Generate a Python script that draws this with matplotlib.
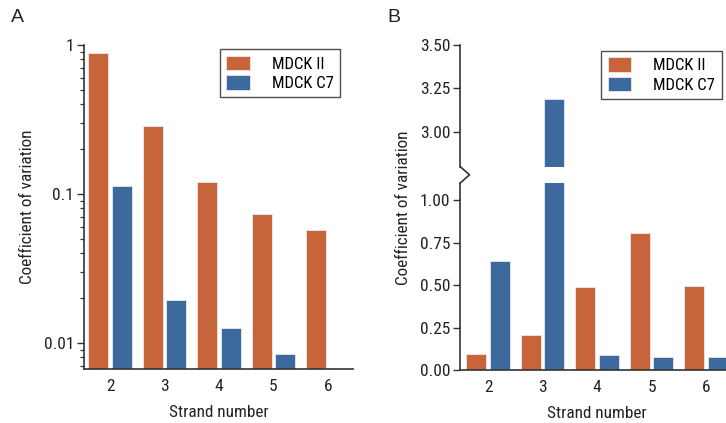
import matplotlib
matplotlib.use("Agg")
import matplotlib.pyplot as plt
from matplotlib import font_manager
from matplotlib.lines import Line2D
import numpy as np

# ---------------- data ----------------
strands = [2, 3, 4, 5, 6]
series_names = ["MDCK II", "MDCK C7"]
cv_a_mdck2 = [0.88, 0.284, 0.121, 0.073, 0.0577]
cv_a_mdckc7 = [0.113, 0.0194, 0.01255, 0.0084, np.nan]
cv_b_mdck2 = [0.092, 0.208, 0.488, 0.808, 0.492]
cv_b_mdckc7 = [0.643, 3.19, 0.088, 0.078, 0.075]
ticks_a = [0.01, 0.1, 1]
ticklabels_a = ["0.01", "0.1", "1"]
ticks_b_low = [0.0, 0.25, 0.5, 0.75, 1.0]
ticks_b_high = [3.0, 3.25, 3.5]

# ---------------- style ----------------
names = {f.name for f in font_manager.fontManager.ttflist}
cands = [n for n in ["Roboto Condensed", "Archivo Narrow", "PT Sans Narrow", "Liberation Sans"] if n in names]
plt.rcParams["font.family"] = cands[:1] + ["DejaVu Sans"]
ORANGE = "#C8643A"
BLUE = "#3C6A9D"
EDGE = "#e6e9f0"
SPINE = "#333333"
TXT = "#222222"
TFS = 12.5
LEGFS = 12
LFS = 12.3

W, H = 726, 423
fig = plt.figure(figsize=(W / 100, H / 100), dpi=100)


def rect(l, t, r, b):
    return [l / W, 1 - b / H, (r - l) / W, (b - t) / H]


x = np.array(strands, dtype=float)
bw = 0.367
off = 0.215


def style(ax, left=True, bottom=True):
    for s in ["top", "right"]:
        ax.spines[s].set_visible(False)
    ax.spines["left"].set_visible(left)
    ax.spines["bottom"].set_visible(bottom)
    for s in ["left", "bottom"]:
        ax.spines[s].set_color(SPINE)
        ax.spines[s].set_linewidth(1.2)
    ax.tick_params(axis="y", which="major", length=5, width=1.0, color=SPINE,
                   labelsize=TFS, pad=2, labelcolor=TXT)
    ax.tick_params(axis="y", which="minor", length=3, width=0.9, color=SPINE)
    ax.tick_params(axis="x", length=0, labelsize=TFS, pad=7, labelcolor=TXT)


# ---------------- panel A ----------------
axA = fig.add_axes(rect(84, 45, 353, 369))
axA.bar(x - off, cv_a_mdck2, bw, color=ORANGE, edgecolor=EDGE, linewidth=0.6, label=series_names[0])
axA.bar(x + off, cv_a_mdckc7, bw, color=BLUE, edgecolor=EDGE, linewidth=0.6, label=series_names[1])
axA.set_yscale("log")
axA.set_ylim(0.00669, 1)
axA.set_xlim(1.52, 6.46)
axA.set_yticks(ticks_a)
axA.set_yticklabels(ticklabels_a)
axA.set_xticks(strands)
axA.set_xticklabels([str(s) for s in strands])
style(axA)
axA.set_ylabel("Coefficient of variation", fontsize=LFS, labelpad=6, color=TXT)
axA.set_xlabel("Strand number", fontsize=LFS, labelpad=8, color=TXT)

legkw = dict(loc="upper left", bbox_transform=fig.transFigure, borderaxespad=0,
             fontsize=LEGFS, frameon=True, fancybox=False,
             handlelength=1.4, handleheight=0.95, handletextpad=1.35,
             labelspacing=0.22, borderpad=0.38)
legA = fig.legend(*axA.get_legend_handles_labels(),
                  bbox_to_anchor=(220 / W, 1 - 49.3 / H), **legkw)
legA.get_frame().set_edgecolor(TXT)
legA.get_frame().set_linewidth(1.0)

# ---------------- panel B ----------------
axBl = fig.add_axes(rect(460.3, 183, 733.3, 370))
axBh = fig.add_axes(rect(460.3, 45, 733.3, 166.7))
for ax in (axBl, axBh):
    ax.bar(x - off, cv_b_mdck2, bw, color=ORANGE, edgecolor=EDGE, linewidth=0.6, label=series_names[0])
    ax.bar(x + off, cv_b_mdckc7, bw, color=BLUE, edgecolor=EDGE, linewidth=0.6, label=series_names[1])
    ax.set_xlim(1.49, 6.5)
axBl.set_ylim(0, 1.10)
axBh.set_ylim(2.80, 3.50)
axBl.set_yticks(ticks_b_low)
axBl.set_yticklabels([f"{v:.2f}" for v in ticks_b_low])
axBh.set_yticks(ticks_b_high)
axBh.set_yticklabels([f"{v:.2f}" for v in ticks_b_high])
axBl.set_xticks(strands)
axBl.set_xticklabels([str(s) for s in strands])
style(axBl)
style(axBh, bottom=False)
axBh.set_xticks([])
axBl.set_xlabel("Strand number", fontsize=LFS, labelpad=8, color=TXT)
fig.text(403 / W, 1 - 207.5 / H, "Coefficient of variation", rotation=90,
         ha="center", va="center", fontsize=LFS, color=TXT)

# zig-zag break on the axis
zx = [460.3, 469.5, 460.3]
zy = [166.7, 174.8, 183]
fig.add_artist(Line2D([v / W for v in zx], [1 - v / H for v in zy],
                      transform=fig.transFigure, color=SPINE, linewidth=1.2))

legB = fig.legend(*axBl.get_legend_handles_labels(),
                  bbox_to_anchor=(601.3 / W, 1 - 51 / H), **legkw)
legB.get_frame().set_edgecolor(TXT)
legB.get_frame().set_linewidth(1.0)

# panel letters
fig.text(11 / W, 1 - 18 / H, "A", fontsize=14, ha="left", va="center",
         family=["Liberation Sans", "DejaVu Sans"], color=TXT)
fig.text(387 / W, 1 - 18 / H, "B", fontsize=14, ha="left", va="center",
         family=["Liberation Sans", "DejaVu Sans"], color=TXT)

fig.savefig("out.png", dpi=100)
